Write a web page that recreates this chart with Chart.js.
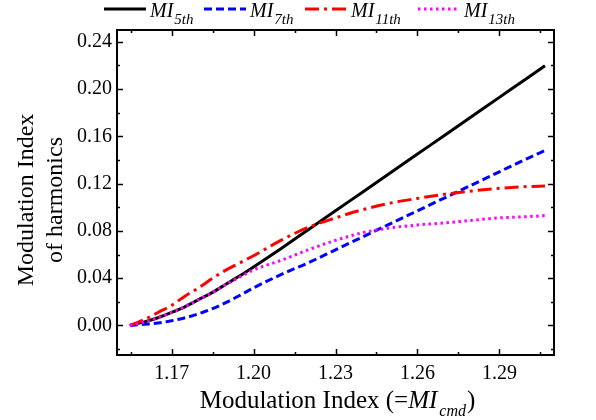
<!DOCTYPE html>
<html>
<head>
<meta charset="utf-8">
<script src="https://cdn.jsdelivr.net/npm/chart.js@4.4.0/dist/chart.umd.min.js"></script>
<style>
  html, body { margin: 0; padding: 0; background: #fff; }
  #wrap { width: 596px; height: 420px; position: relative; }
</style>
</head>
<body>
<div id="wrap"><canvas id="chartMI"></canvas></div>
<script>
'use strict';

// x values (modulation index command)
var mi_cmd = [1.1547, 1.16, 1.165, 1.17, 1.175, 1.18, 1.185, 1.19, 1.195, 1.20, 1.21, 1.22, 1.23, 1.24, 1.25, 1.26, 1.27, 1.28, 1.29, 1.30, 1.3067];

var mi_5th  = [0, 0.003, 0.0065, 0.011, 0.016, 0.022, 0.028, 0.035, 0.042, 0.0495, 0.065, 0.081, 0.097, 0.113, 0.129, 0.145, 0.161, 0.177, 0.193, 0.209, 0.2198];
var mi_7th  = [0, 0.001, 0.002, 0.004, 0.0065, 0.010, 0.0143, 0.0195, 0.0255, 0.0318, 0.043, 0.053, 0.064, 0.075, 0.086, 0.097, 0.108, 0.119, 0.130, 0.141, 0.148];
var mi_11th = [0, 0.005, 0.011, 0.017, 0.025, 0.032, 0.040, 0.047, 0.053, 0.059, 0.072, 0.083, 0.091, 0.098, 0.1035, 0.1075, 0.111, 0.1138, 0.116, 0.1175, 0.118];
var mi_13th = [0, 0.003, 0.0065, 0.011, 0.016, 0.022, 0.028, 0.035, 0.041, 0.047, 0.055, 0.064, 0.072, 0.0785, 0.0825, 0.085, 0.0868, 0.089, 0.091, 0.092, 0.093];

var xMajor = [1.17, 1.20, 1.23, 1.26, 1.29];
var xMinor = [1.155, 1.185, 1.215, 1.245, 1.275, 1.305];
var yMajor = [0.00, 0.04, 0.08, 0.12, 0.16, 0.20, 0.24];
var yMinor = [-0.02, 0.02, 0.06, 0.10, 0.14, 0.18, 0.22];

var legendNames = [['MI', '5th'], ['MI', '7th'], ['MI', '11th'], ['MI', '13th']];

function pts(ys) {
    return mi_cmd.map(function (x, i) { return { x: x, y: ys[i] }; });
}

var serif = '"Liberation Serif", "Times New Roman", serif';

// ------------------------------------------------------- //
// frame, inner ticks, legend and axis titles
// ------------------------------------------------------ //
var framePlugin = {
    id: 'framePlugin',
    afterDraw: function (chart) {
        var ctx = chart.ctx;
        var a = chart.chartArea;
        var xs = chart.scales.x, ys = chart.scales.y;
        ctx.save();
        ctx.strokeStyle = '#000';
        ctx.lineWidth = 2;
        ctx.strokeRect(a.left, a.top, a.right - a.left, a.bottom - a.top);

        ctx.lineWidth = 1.5;
        function xt(v, len) {
            var p = Math.round(xs.getPixelForValue(v)) + 0.5;
            ctx.beginPath();
            ctx.moveTo(p, a.bottom); ctx.lineTo(p, a.bottom - len);
            ctx.moveTo(p, a.top); ctx.lineTo(p, a.top + len);
            ctx.stroke();
        }
        function yt(v, len) {
            var p = Math.round(ys.getPixelForValue(v)) + 0.5;
            ctx.beginPath();
            ctx.moveTo(a.left, p); ctx.lineTo(a.left + len, p);
            ctx.moveTo(a.right, p); ctx.lineTo(a.right - len, p);
            ctx.stroke();
        }
        xMajor.forEach(function (v) { xt(v, 6); });
        xMinor.forEach(function (v) { xt(v, 3); });
        yMajor.forEach(function (v) { yt(v, 6); });
        yMinor.forEach(function (v) { yt(v, 3); });

        // legend
        var legendX = [104, 204, 305, 418];
        chart.data.datasets.forEach(function (ds, i) {
            var x0 = legendX[i];
            ctx.strokeStyle = ds.borderColor;
            ctx.lineWidth = ds.borderWidth;
            ctx.setLineDash(ds.borderDash || []);
            ctx.beginPath();
            ctx.moveTo(x0, 9); ctx.lineTo(x0 + 42, 9);
            ctx.stroke();
            ctx.setLineDash([]);
            ctx.fillStyle = '#000';
            ctx.textBaseline = 'alphabetic';
            ctx.textAlign = 'left';
            ctx.font = 'italic 20px ' + serif;
            ctx.fillText(legendNames[i][0], x0 + 46, 17);
            var w = ctx.measureText(legendNames[i][0]).width;
            ctx.font = 'italic 15px ' + serif;
            ctx.fillText(legendNames[i][1], x0 + 46 + w + 1, 24);
        });

        // x title
        ctx.fillStyle = '#000';
        var p1 = 'Modulation Index (=', p2 = 'MI', p3 = 'cmd', p4 = ')';
        ctx.font = '25px ' + serif;
        var w1 = ctx.measureText(p1).width, w4 = ctx.measureText(p4).width;
        ctx.font = 'italic 25px ' + serif;
        var w2 = ctx.measureText(p2).width;
        ctx.font = 'italic 16px ' + serif;
        var w3 = ctx.measureText(p3).width;
        var tx = (a.left + a.right) / 2 + 2 - (w1 + w2 + w3 + 3 + w4) / 2;
        var by = 408;
        ctx.font = '25px ' + serif;
        ctx.fillText(p1, tx, by);
        ctx.font = 'italic 25px ' + serif;
        ctx.fillText(p2, tx + w1, by);
        ctx.font = 'italic 16px ' + serif;
        ctx.fillText(p3, tx + w1 + w2 + 2, by + 8);
        ctx.font = '25px ' + serif;
        ctx.fillText(p4, tx + w1 + w2 + w3 + 3, by);

        // y title
        ctx.translate(0, 200);
        ctx.rotate(-Math.PI / 2);
        ctx.textAlign = 'center';
        ctx.font = '24px ' + serif;
        ctx.fillText('Modulation Index', 0, 33);
        ctx.fillText('of harmonics', 0, 62);
        ctx.restore();
    }
};

var ctxMI = document.getElementById('chartMI').getContext('2d');
var chartMI = new Chart(ctxMI, {
    type: 'line',
    plugins: [framePlugin],
    data: {
        datasets: [
            { data: pts(mi_5th),  borderColor: '#000000', borderWidth: 3, borderDash: [], order: 4 },
            { data: pts(mi_7th),  borderColor: '#0000ff', borderWidth: 3, borderDash: [8, 4], order: 3 },
            { data: pts(mi_11th), borderColor: '#ff0000', borderWidth: 3, borderDash: [14, 5, 3, 5], order: 2 },
            { data: pts(mi_13th), borderColor: '#ff00ff', borderWidth: 3, borderDash: [2.5, 3.5], order: 1 }
        ]
    },
    options: {
        responsive: true,
        maintainAspectRatio: false,
        animation: false,
        layout: { padding: { top: 30, right: 42, left: 0, bottom: 0 } },
        elements: {
            point: { radius: 0 },
            line: { cubicInterpolationMode: 'monotone', fill: false }
        },
        plugins: { legend: { display: false }, tooltip: { enabled: false } },
        scales: {
            x: {
                type: 'linear',
                min: 1.15, max: 1.31,
                grid: { display: false, drawTicks: false },
                border: { display: false },
                afterBuildTicks: function (s) { s.ticks = xMajor.map(function (v) { return { value: v }; }); },
                afterFit: function (s) { s.height = 65; },
                ticks: {
                    padding: 7,
                    color: '#000',
                    font: { family: serif, size: 20 },
                    callback: function (v) { return v.toFixed(2); }
                }
            },
            y: {
                min: -0.025, max: 0.25,
                grid: { display: false, drawTicks: false },
                border: { display: false },
                afterBuildTicks: function (s) { s.ticks = yMajor.map(function (v) { return { value: v }; }); },
                afterFit: function (s) { s.width = 117; },
                ticks: {
                    padding: 5,
                    color: '#000',
                    font: { family: serif, size: 20 },
                    callback: function (v) { return v.toFixed(2); }
                }
            }
        }
    }
});
</script>
</body>
</html>
